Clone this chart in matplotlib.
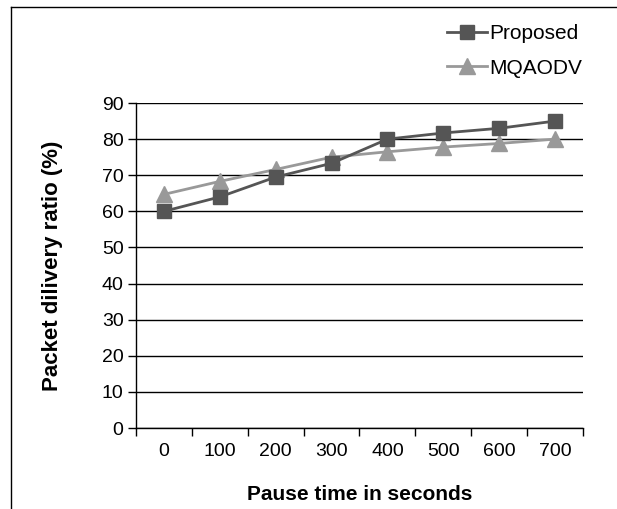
import matplotlib
matplotlib.use("Agg")
import matplotlib.pyplot as plt
from matplotlib.lines import Line2D

plt.rcParams["font.family"] = ["Liberation Sans", "DejaVu Sans"]

pause_times = ["0", "100", "200", "300", "400", "500", "600", "700"]
proposed = [60, 64, 69.5, 73.3, 80, 81.7, 83, 85]
mqaodv = [64.7, 68.3, 71.6, 75, 76.5, 77.8, 78.8, 80]
y_ticks = [0, 10, 20, 30, 40, 50, 60, 70, 80, 90]

fig = plt.figure(figsize=(6.17, 5.09), dpi=100)
ax = fig.add_axes([0.2204, 0.1591, 0.7245, 0.6385])

x = list(range(len(pause_times)))
ax.plot(x, proposed, color="#555555", lw=2, marker="s", ms=9.5,
        label="Proposed", zorder=4)
ax.plot(x, mqaodv, color="#999999", lw=2, marker="^", ms=11,
        label="MQAODV", zorder=3)

ax.set_xlim(-0.5, len(pause_times) - 0.5)
ax.set_ylim(0, 90)
ax.set_yticks(y_ticks)
ax.yaxis.grid(True, color="black", lw=1)
ax.set_axisbelow(True)

# category boundaries get the tick marks, labels sit in the middle
ax.set_xticks([i - 0.5 for i in range(len(pause_times) + 1)])
ax.set_xticklabels([])
ax.set_xticks(x, minor=True)
ax.set_xticklabels(pause_times, minor=True)
ax.tick_params(axis="x", which="major", length=6, width=1, direction="out")
ax.tick_params(axis="x", which="minor", length=0, pad=11, labelsize=14)
ax.tick_params(axis="y", length=6, width=1, pad=3, labelsize=14)

for side in ["top", "right"]:
    ax.spines[side].set_visible(False)
for side in ["left", "bottom"]:
    ax.spines[side].set_linewidth(1)

ax.set_xlabel("Pause time in seconds", fontsize=15, fontweight="bold",
              labelpad=18)
ax.set_ylabel("Packet dilivery ratio (%)", fontsize=16, fontweight="bold",
              labelpad=28)

ax.legend(loc="upper left", bbox_to_anchor=(447 / 617, 1 - 24 / 509),
          bbox_transform=fig.transFigure, frameon=False,
          fontsize=15, handlelength=1.9, handletextpad=0.15,
          labelspacing=0.75, borderaxespad=0, borderpad=0)

# outer frame (top and left only)
fig.add_artist(Line2D([0.0178, 1.0], [0.986, 0.986], color="black", lw=1))
fig.add_artist(Line2D([0.0178, 0.0178], [0.0, 0.986], color="black", lw=1))

fig.savefig("out.png", dpi=100)
